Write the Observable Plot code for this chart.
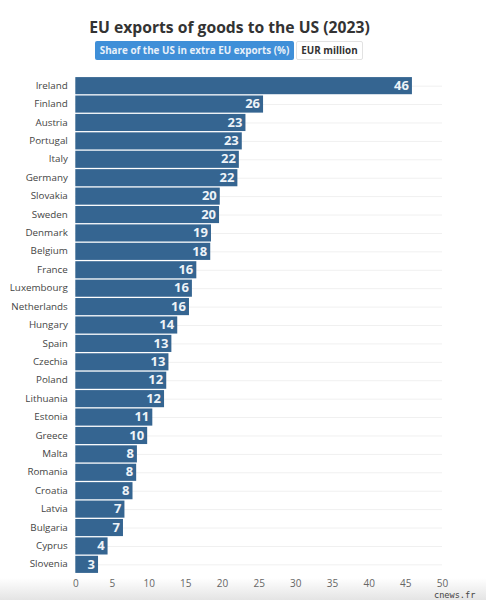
<!DOCTYPE html>
<html>
<head>
<meta charset="utf-8">
<script src="https://cdn.jsdelivr.net/npm/d3@7"></script>
<script src="https://cdn.jsdelivr.net/npm/@observablehq/plot@0.6"></script>
<style>
html,body{margin:0;padding:0;background:#fff;}
#page{position:relative;width:486px;height:600px;overflow:hidden;font-family:"Open Sans",sans-serif;
  background:linear-gradient(to bottom,#fff 0,#fff 578px,#e4e4e4 600px);}
#title{position:absolute;left:0;top:15px;width:459px;text-align:center;font-size:15.7px;font-weight:700;color:#333;line-height:24px;white-space:nowrap;}
.btn{position:absolute;top:41px;height:19px;line-height:19px;font-size:9.85px;font-weight:700;text-align:center;box-sizing:border-box;white-space:nowrap;}
#b1{left:95px;width:199px;background:#3f8fd8;color:#e8f1fa;border-radius:2px;}
#b2{left:296px;width:67px;background:#fff;color:#333;border:1px solid #e2e2e2;border-radius:2px;line-height:17px;}
#chart{position:absolute;left:0;top:70px;}
#credit{position:absolute;left:434px;top:590px;font-family:"DejaVu Sans Mono",monospace;font-size:8.6px;line-height:10px;color:#444;white-space:nowrap;}
</style>
</head>
<body>
<div id="page">
  <div id="title">EU exports of goods to the US (2023)</div>
  <div class="btn" id="b1">Share of the US in extra EU exports (%)</div>
  <div class="btn" id="b2">EUR million</div>
  <div id="chart"></div>
  <div id="credit">cnews.fr</div>
</div>
<script>
const countries = ["Ireland","Finland","Austria","Portugal","Italy","Germany","Slovakia","Sweden","Denmark","Belgium","France","Luxembourg","Netherlands","Hungary","Spain","Czechia","Poland","Lithuania","Estonia","Greece","Malta","Romania","Croatia","Latvia","Bulgaria","Cyprus","Slovenia"];
const shares = [45.9,25.6,23.2,22.7,22.3,22.1,19.7,19.6,18.5,18.4,16.5,15.9,15.5,13.9,13.1,12.7,12.4,12.1,10.5,9.8,8.4,8.3,7.8,6.7,6.5,4.4,3.1];
const shareLabels = [46,26,23,23,22,22,20,20,19,18,16,16,16,14,13,13,12,12,11,10,8,8,8,7,7,4,3];
const xTicks = [0,5,10,15,20,25,30,35,40,45,50];
const rows = countries.map((country,i)=>({country,share:shares[i],label:shareLabels[i]}));

const plot = Plot.plot({
  width: 486,
  height: 530,
  marginLeft: 75.3,
  marginRight: 44,
  marginTop: 5.8,
  marginBottom: 25.8,
  style: {background:"transparent", fontFamily:'"Open Sans",sans-serif'},
  x: {domain:[0,50], ticks:xTicks, label:null},
  y: {domain:countries, label:null, padding:0.07, align:0.5, round:false},
  marks: [
    Plot.ruleY(countries,{y:d=>d, stroke:"#f0f0f0", strokeWidth:1}),
    Plot.barX(rows,{x:"share", y:"country", fill:"#356591"}),
    Plot.text(rows,{x:"share", y:"country", text:"label", textAnchor:"end", dx:-3.5, dy:-0.5, fill:"#eef3f8", fontWeight:700, fontSize:13}),
    Plot.axisX({ticks:xTicks, tickSize:0, tickPadding:5.5, fontSize:10, color:"#666", label:null, marginBottom:25.8}),
    Plot.axisY({tickSize:0, tickPadding:8, fontSize:9.8, color:"#444", label:null, dy:-0.5})
  ]
});
document.getElementById("chart").appendChild(plot);
</script>
</body>
</html>
